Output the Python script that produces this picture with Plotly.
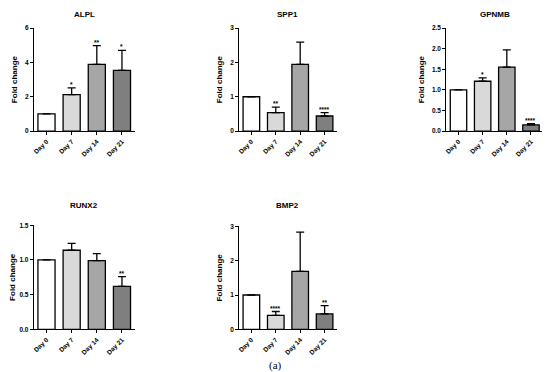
import plotly.graph_objects as go
from plotly.subplots import make_subplots

days = ['Day 0', 'Day 7', 'Day 14', 'Day 21']
bar_colors = ['#ffffff', '#d9d9d9', '#a6a6a6', '#7f7f7f']

alpl = [1.0, 2.12, 3.88, 3.53]
alpl_err = [0, 0.40, 1.09, 1.17]
alpl_sig = ['', '*', '**', '*']

spp1 = [1.0, 0.54, 1.94, 0.44]
spp1_err = [0, 0.16, 0.65, 0.10]
spp1_sig = ['', '**', '', '****']

gpnmb = [1.0, 1.21, 1.55, 0.15]
gpnmb_err = [0, 0.08, 0.42, 0.03]
gpnmb_sig = ['', '*', '', '****']

runx2 = [1.0, 1.14, 0.99, 0.62]
runx2_err = [0, 0.10, 0.10, 0.14]
runx2_sig = ['', '', '', '**']

bmp2 = [1.0, 0.41, 1.69, 0.45]
bmp2_err = [0, 0.11, 1.14, 0.24]
bmp2_sig = ['', '****', '', '**']

panels = [
    ('ALPL', alpl, alpl_err, alpl_sig, 6, 2, 'd'),
    ('SPP1', spp1, spp1_err, spp1_sig, 3, 1, 'd'),
    ('GPNMB', gpnmb, gpnmb_err, gpnmb_sig, 2.5, 0.5, '.1f'),
    ('RUNX2', runx2, runx2_err, runx2_sig, 1.5, 0.5, '.1f'),
    ('BMP2', bmp2, bmp2_err, bmp2_sig, 3, 1, 'd'),
]

# where things should land on the page (x0, x1, ytop, ybottom, title_y);
# converted to figure pixels with the offsets measured from earlier renders
W, H = 550, 372
boxes = [(32, 133, 28, 131, 14), (238, 336, 28, 131, 14), (446, 543, 28, 131, 14),
         (32, 133, 225, 329, 205), (238, 336, 226, 329, 205)]


def fx(p):
    return (p - 8) / W


def fy(p):
    return 1 - (p - 12) / 0.98 / H


fig = make_subplots(rows=2, cols=3)
font = 'Liberation Sans, Arial, sans-serif'
annots = []

for i, (name, vals, errs, sig, top, step, fmt) in enumerate(panels):
    r, c = i // 3 + 1, i % 3 + 1
    fig.add_trace(go.Bar(
        x=days, y=vals, width=0.68,
        marker=dict(color=bar_colors, line=dict(color='black', width=1.3)),
        error_y=dict(type='data', array=errs, symmetric=False, arrayminus=[0] * 4,
                     color='black', thickness=1.3, width=4),
    ), row=r, col=c)
    x0, x1, yt, yb, ty = boxes[i]
    xa = 'xaxis' + ('' if i == 0 else str(i + 1))
    ya = 'yaxis' + ('' if i == 0 else str(i + 1))
    fig.update_layout(**{
        xa: dict(domain=[fx(x0), fx(x1)]),
        ya: dict(domain=[fy(yb), fy(yt)]),
    })
    fig.update_yaxes(range=[0, top], dtick=step, tick0=0, tickformat=fmt,
                     tickprefix='<b>', ticksuffix='</b>',
                     title=dict(text='<b>Fold change</b>', font=dict(size=8, family=font, color='black'), standoff=6),
                     row=r, col=c)
    xr = 'x' + ('' if i == 0 else str(i + 1))
    yr = 'y' + ('' if i == 0 else str(i + 1))
    annots.append(dict(text='<b>' + name + '</b>', x=fx((x0 + x1) / 2), y=fy(ty),
                       xref='paper', yref='paper', xanchor='center', yanchor='middle', showarrow=False,
                       font=dict(size=8, family=font, color='black')))
    for d, v, e, s in zip(days, vals, errs, sig):
        if s:
            annots.append(dict(text='<b>' + s + '</b>', x=d, y=v + e, xref=xr, yref=yr,
                               xanchor='center', yanchor='bottom', showarrow=False, yshift=-2,
                               font=dict(size=6.5, family=font, color='black')))

fig.update_xaxes(showline=True, linecolor='black', linewidth=1.2, ticks='outside',
                 ticklen=3, tickwidth=1, tickcolor='black', tickangle=-45,
                 tickprefix='<b>', ticksuffix='</b>',
                 tickfont=dict(size=6.5, family=font, color='black'), showgrid=False)
fig.update_yaxes(showline=True, linecolor='black', linewidth=1.2, ticks='outside',
                 ticklen=3, tickwidth=1, tickcolor='black',
                 tickfont=dict(size=6.5, family=font, color='black'),
                 showgrid=False, zeroline=False)

annots.append(dict(text='(a)', x=fx(274), y=fy(365), xref='paper', yref='paper',
                   xanchor='center', yanchor='middle', showarrow=False,
                   font=dict(size=11, family='Liberation Serif, Times New Roman, serif', color='black')))

fig.update_layout(width=W, height=H, margin=dict(l=0, r=0, t=0, b=0),
                  paper_bgcolor='white', plot_bgcolor='white', showlegend=False,
                  bargap=0.3, annotations=annots)
fig.write_html('out.html')
